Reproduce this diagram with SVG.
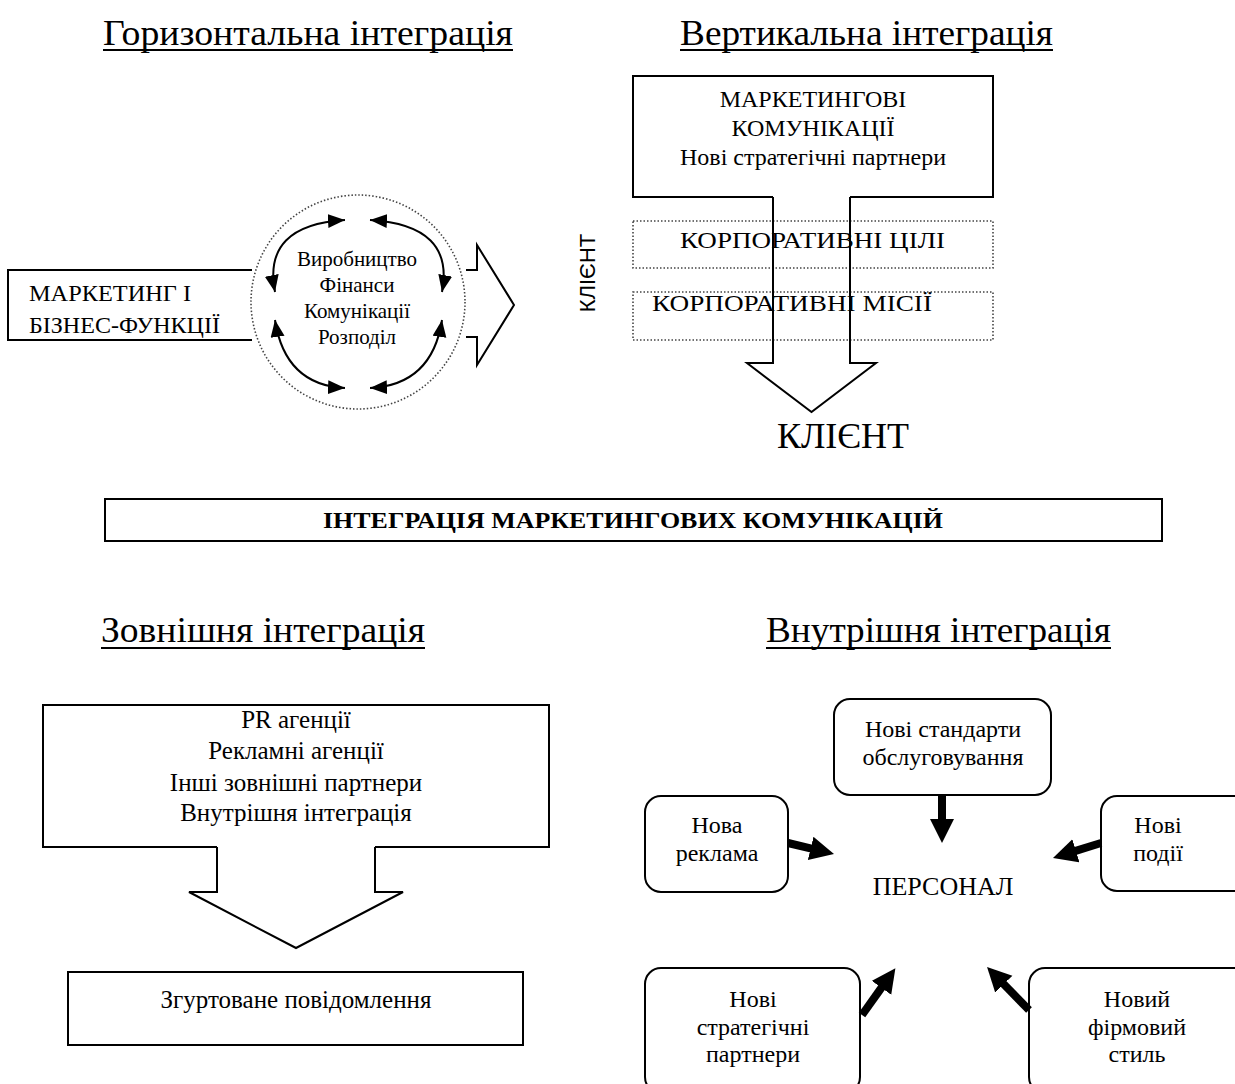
<svg xmlns="http://www.w3.org/2000/svg" width="1235" height="1084" viewBox="0 0 1235 1084">
<style>
  text { font-family: "Liberation Serif", "Times New Roman", serif; fill: #000; }
  .title { font-size: 36px; }
  .t24 { font-size: 24px; text-anchor: middle; }
  .t21 { font-size: 21px; text-anchor: middle; }
  .t25 { font-size: 25px; text-anchor: middle; }
  .box { fill: none; stroke: #000; stroke-width: 2; }
  .dot { fill: none; stroke: #444; stroke-width: 1.6; stroke-dasharray: 1.5 2; }
  .rbox { fill: #fff; stroke: #000; stroke-width: 2; }
  .ul { stroke: #000; stroke-width: 2; }
  .arc { fill: none; stroke: #000; stroke-width: 2; marker-start: url(#ah); marker-end: url(#ah); }
  .thick { stroke: #000; stroke-width: 8; marker-end: url(#th); }
</style>
<defs>
  <marker id="ah" markerUnits="userSpaceOnUse" markerWidth="19" markerHeight="15" refX="17" refY="7" orient="auto-start-reverse">
    <path d="M0,0 L17,7 L0,14 z" fill="#000"/>
  </marker>
  <marker id="th" markerUnits="userSpaceOnUse" markerWidth="26" markerHeight="26" refX="2" refY="12" orient="auto">
    <path d="M0,0 L24,12 L0,24 z" fill="#000"/>
  </marker>
</defs>
<rect width="1235" height="1084" fill="#fff"/>

<g id="titles">
  <text class="title" x="103" y="45" textLength="410" lengthAdjust="spacingAndGlyphs">Горизонтальна інтеграція</text>
  <line class="ul" x1="103" y1="50" x2="513" y2="50"/>
  <text class="title" x="680" y="45" textLength="373" lengthAdjust="spacingAndGlyphs">Вертикальна інтеграція</text>
  <line class="ul" x1="680" y1="50" x2="1053" y2="50"/>
  <text class="title" x="101" y="642" textLength="324" lengthAdjust="spacingAndGlyphs">Зовнішня інтеграція</text>
  <line class="ul" x1="101" y1="648" x2="425" y2="648"/>
  <text class="title" x="766" y="642" textLength="345" lengthAdjust="spacingAndGlyphs">Внутрішня інтеграція</text>
  <line class="ul" x1="766" y1="648" x2="1111" y2="648"/>
</g>

<g id="marketing-business">
  <path class="box" d="M252,270 L8,270 L8,340 L252,340"/>
  <text x="29" y="301" style="font-size:24px" textLength="162" lengthAdjust="spacingAndGlyphs">МАРКЕТИНГ І</text>
  <text x="29" y="333" style="font-size:24px" textLength="191" lengthAdjust="spacingAndGlyphs">БІЗНЕС-ФУНКЦІЇ</text>
</g>

<g id="functions-circle">
  <circle class="dot" cx="358" cy="302" r="107"/>
  <text class="t21" x="357" y="266">Виробництво</text>
  <text class="t21" x="357" y="292">Фінанси</text>
  <text class="t21" x="357" y="318">Комунікації</text>
  <text class="t21" x="357" y="344">Розподіл</text>
</g>

<g id="horizontal-arrow">
  <path class="box" d="M466,270 L477,270 L477,245 L514,305 L477,365 L477,337 L466,337" stroke-linejoin="miter"/>
</g>

<g id="client-vertical">
  <text x="595" y="273" transform="rotate(-90 595 273)" style="font-family:'Liberation Sans', Arial, sans-serif; font-size:22px; text-anchor:middle">КЛІЄНТ</text>
</g>

<g id="marketing-communications">
  <path class="box" d="M773,197 L633,197 L633,76 L993,76 L993,197 L850,197"/>
  <text class="t24" x="813" y="107">МАРКЕТИНГОВІ</text>
  <text class="t24" x="813" y="136">КОМУНІКАЦІЇ</text>
  <text class="t24" x="813" y="165">Нові стратегічні партнери</text>
</g>

<g id="corporate-goals">
  <rect class="dot" x="633" y="221" width="360" height="47"/>
  <text x="680" y="248" style="font-size:24px" textLength="265" lengthAdjust="spacingAndGlyphs">КОРПОРАТИВНІ ЦІЛІ</text>
</g>

<g id="corporate-missions">
  <rect class="dot" x="633" y="292" width="360" height="48"/>
  <text x="652" y="311" style="font-size:24px" textLength="280" lengthAdjust="spacingAndGlyphs">КОРПОРАТИВНІ МІСІЇ</text>
</g>

<g id="vertical-arrow">
  <path class="box" d="M773,197 L773,363 L747,363 L811.5,412 L876,363 L850,363 L850,197"/>
</g>

<g id="client-bottom">
  <text x="843" y="448" style="font-size:36px; text-anchor:middle">КЛІЄНТ</text>
</g>

<g id="imc-banner">
  <rect class="box" x="105" y="499" width="1057" height="42"/>
  <text x="323" y="528" style="font-size:23px; font-weight:bold" textLength="620" lengthAdjust="spacingAndGlyphs">ІНТЕГРАЦІЯ МАРКЕТИНГОВИХ КОМУНІКАЦІЙ</text>
</g>

<g id="external-partners">
  <path class="box" d="M217,847 L43,847 L43,705 L549,705 L549,847 L375,847"/>
  <text class="t25" x="296" y="728">PR агенції</text>
  <text class="t25" x="296" y="759">Рекламні агенції</text>
  <text class="t25" x="296" y="791">Інші зовнішні партнери</text>
  <text class="t25" x="296" y="821">Внутрішня інтеграція</text>
</g>

<g id="external-arrow">
  <path class="box" d="M217,847 L217,892 L189,892 L296,948 L403,892 L375,892 L375,847"/>
</g>

<g id="cohesive-message">
  <rect class="box" x="68" y="972" width="455" height="73"/>
  <text class="t25" x="296" y="1008">Згуртоване повідомлення</text>
</g>

<g id="service-standards">
  <rect class="rbox" x="834" y="699" width="217" height="96" rx="16"/>
  <text class="t24" x="943" y="737">Нові стандарти</text>
  <text class="t24" x="943" y="765">обслуговування</text>
</g>

<g id="new-advertising">
  <rect class="rbox" x="645" y="796" width="143" height="96" rx="16"/>
  <text class="t24" x="717" y="833">Нова</text>
  <text class="t24" x="717" y="861">реклама</text>
</g>

<g id="new-events">
  <rect class="rbox" x="1101" y="796" width="150" height="95" rx="16"/>
  <text class="t24" x="1158" y="833">Нові</text>
  <text class="t24" x="1158" y="861">події</text>
</g>

<g id="personnel">
  <text x="943" y="895" style="font-size:26px; text-anchor:middle">ПЕРСОНАЛ</text>
</g>

<g id="strategic-partners">
  <rect class="rbox" x="645" y="968" width="215" height="125" rx="16"/>
  <text class="t24" x="753" y="1007">Нові</text>
  <text class="t24" x="753" y="1035">стратегічні</text>
  <text class="t24" x="753" y="1062">партнери</text>
</g>

<g id="corporate-style">
  <rect class="rbox" x="1029" y="968" width="220" height="125" rx="16"/>
  <text class="t24" x="1137" y="1007">Новий</text>
  <text class="t24" x="1137" y="1035">фірмовий</text>
  <text class="t24" x="1137" y="1062">стиль</text>
</g>

<g id="connectors">
  <path class="arc" d="M345,220 Q262,225 275,292"/>
  <path class="arc" d="M370,220 Q455,225 442,292"/>
  <path class="arc" d="M275,320 Q285,385 345,388"/>
  <path class="arc" d="M442,320 Q432,385 370,388"/>
  <line class="thick" x1="942" y1="795" x2="942" y2="821"/>
  <line class="thick" x1="788" y1="843" x2="812.6" y2="848.9"/>
  <line class="thick" x1="1101" y1="843" x2="1074" y2="851.4"/>
  <line class="thick" x1="862" y1="1015" x2="882.6" y2="986.2"/>
  <line class="thick" x1="1029" y1="1010" x2="1002.4" y2="982.7"/>
</g>
</svg>
